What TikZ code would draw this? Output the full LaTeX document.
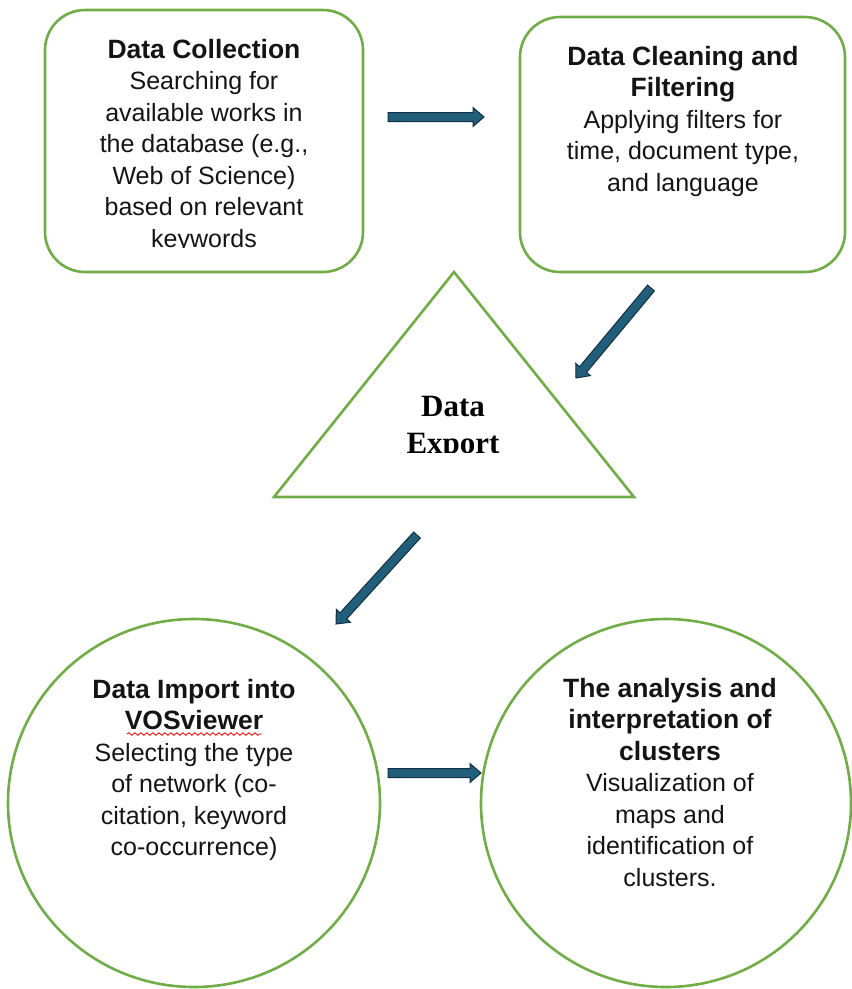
\documentclass[tikz,border=0pt]{standalone}
\usepackage{fontspec}
\setmainfont{Liberation Sans}
\newfontfamily\timesbf{Liberation Serif}
\usetikzlibrary{calc,decorations.pathmorphing}
\definecolor{boxgreen}{RGB}{112,173,71}
\definecolor{arrfill}{RGB}{33,94,121}
\definecolor{arrline}{RGB}{18,48,66}
\definecolor{txt}{RGB}{20,20,20}
\newcommand{\hd}[1]{{\fontsize{26.5}{31.5}\selectfont\bfseries #1}}
\tikzset{
  shapebox/.style={draw=boxgreen, line width=2.6pt},
  body/.style={align=center, inner sep=0pt, anchor=base, text=txt,
     font=\fontsize{25}{31.5}\selectfont},
  arrowsty/.style={fill=arrfill, draw=arrline, line width=1pt, line join=miter},
}
\newcommand{\blockarrow}[2]{%
  \draw[arrowsty] let \p1=($(#2)-(#1)$), \n1={atan2(\y1,\x1)} in
    ($(#1)+(\n1+90:4.5pt)$) -- ($(#2)+(\n1+180:11pt)+(\n1+90:4.5pt)$) --
    ($(#2)+(\n1+180:11pt)+(\n1+90:9.5pt)$) -- (#2) --
    ($(#2)+(\n1+180:11pt)+(\n1-90:9.5pt)$) -- ($(#2)+(\n1+180:11pt)+(\n1-90:4.5pt)$) --
    ($(#1)+(\n1-90:4.5pt)$) -- cycle;}
\begin{document}
\begin{tikzpicture}[x=1pt,y=-1pt]
\useasboundingbox (0,0) rectangle (852,989);
% shapes
\node[shapebox, rounded corners=40pt, minimum width=318pt, minimum height=262pt, inner sep=0pt] (collect) at (204,141) {};
\node[shapebox, rounded corners=40pt, minimum width=325pt, minimum height=255pt, inner sep=0pt] (clean) at (682.5,144.5) {};
\coordinate (tA) at (454,272);
\coordinate (tL) at (274,497);
\coordinate (tR) at (634,497);
\draw[shapebox, line join=miter] (tA) -- (tL) -- (tR) -- cycle;
\draw[shapebox] (194,803) ellipse [x radius=186pt, y radius=184pt];
\coordinate (importc) at (194,803);
\draw[shapebox] (666,803) ellipse [x radius=185pt, y radius=184pt];
\coordinate (analysisc) at (666,803);
% texts (anchor = baseline of last line)
\begin{scope}
\clip (45,10) rectangle (363,247);
\node[body] (t1) at (204,247) {\hd{Data Collection}\\Searching for\\available works in\\the database (e.g.,\\Web of Science)\\based on relevant\\keywords};
\end{scope}
\node[body] (t2) at (683,191) {\hd{Data Cleaning and}\\\hd{Filtering}\\Applying filters for\\time, document type,\\and language};
\begin{scope}
\clip (300,370) rectangle (600,452);
\node[align=center, inner sep=0pt, anchor=base, text=black, font=\timesbf\bfseries\fontsize{31}{37}\selectfont] (t3) at (453,453) {Data\\Export};
\end{scope}
\node[body] (t4) at (194,855.5) {\hd{Data Import into}\\\hd{VOSviewer}\\Selecting the type\\of network (co-\\citation, keyword\\co-occurrence)};
\coordinate (wavyA) at (127,734);
\coordinate (wavyB) at (262,734);
\draw[red, line width=0.8pt, decorate, decoration={snake, amplitude=1.3pt, segment length=6pt}] (wavyA) -- (wavyB);
\node[body] (t5) at (670,886) {\hd{The analysis and}\\\hd{interpretation of}\\\hd{clusters}\\Visualization of\\maps and\\identification of\\clusters.};
% arrows
\coordinate (a1s) at (388,117); \coordinate (a1e) at (484,117);
\coordinate (a2s) at (651,288); \coordinate (a2e) at (576,378);
\coordinate (a3s) at (417,535); \coordinate (a3e) at (336,624);
\coordinate (a4s) at (388,773); \coordinate (a4e) at (481,773);
\blockarrow{a1s}{a1e}
\blockarrow{a2s}{a2e}
\blockarrow{a3s}{a3e}
\blockarrow{a4s}{a4e}
\end{tikzpicture}
\end{document}
